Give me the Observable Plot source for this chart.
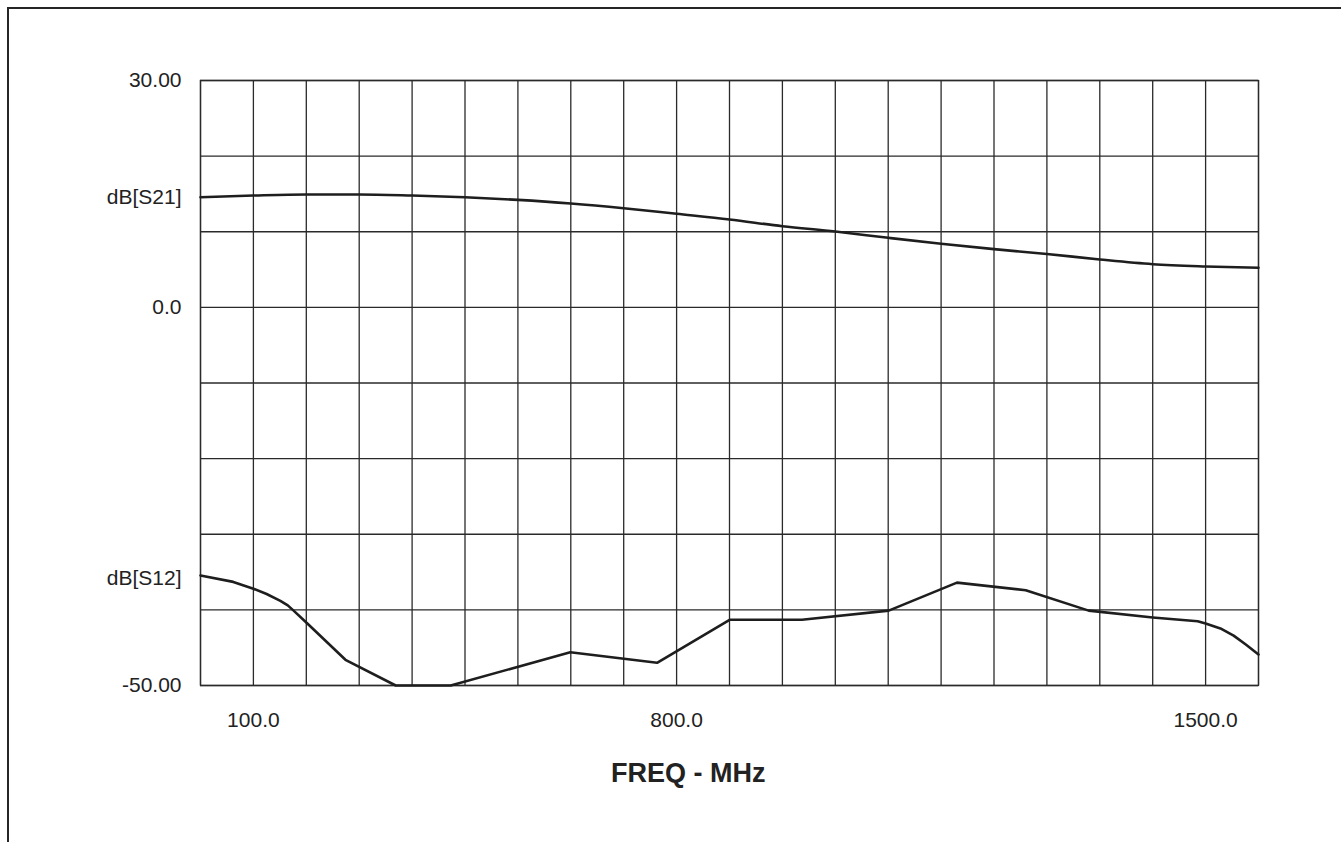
<!DOCTYPE html>
<html><head><meta charset="utf-8">
<script src="https://cdn.jsdelivr.net/npm/d3@7"></script>
<script src="https://cdn.jsdelivr.net/npm/@observablehq/plot@0.6"></script>
<style>
html,body{margin:0;padding:0;background:#fff;}
#wrap{position:relative;width:1341px;height:842px;overflow:hidden;background:#fff;}
#border{position:absolute;left:7px;top:7px;width:1400px;height:900px;border-top:2.5px solid #262626;border-left:2.5px solid #262626;}
#chart{position:absolute;left:0;top:0;}
</style></head><body>
<div id="wrap"><div id="border"></div><div id="chart"></div></div>
<script>
// Frequency axis in grid divisions (0..20); labelled ticks as printed on the chart
const xGrid = [0,1,2,3,4,5,6,7,8,9,10,11,12,13,14,15,16,17,18,19,20];
const xTickDiv = [1, 9, 19];
const xTickLabels = ["100.0", "800.0", "1500.0"];
const xTitle = "FREQ - MHz";
const xTitleDiv = 9.22;

// dB axis
const yGrid = [-50,-40,-30,-20,-10,0,10,20,30];
const yTickVals = [30, 14.5, 0, -35.8, -50];
const yTickLabels = ["30.00", "dB[S21]", "0.0", "dB[S12]", "-50.00"];

// dB[S21]
const s21Div = [0,1,2,3,4,5,6,7,8,9,10,11,12,13,14,15,16,17,18,19,20];
const s21dB  = [14.57,14.79,14.93,14.93,14.79,14.57,14.22,13.74,13.11,12.37,11.62,10.73,10.03,9.2,8.41,7.7,7.06,6.33,5.71,5.41,5.23];

// dB[S12]
const s12Div = [0,0.62,1.0,1.25,1.51,1.65,1.76,2.02,2.74,3.69,4.73,6.99,8.63,10.01,11.37,13.01,14.3,15.6,16.79,18.0,18.85,19.0,19.28,19.53,19.76,20.0];
const s12dB  = [-35.45,-36.3,-37.2,-37.9,-38.8,-39.4,-40.1,-41.8,-46.6,-50,-50,-45.6,-47.0,-41.3,-41.3,-40.1,-36.4,-37.4,-40.1,-41.0,-41.5,-41.8,-42.46,-43.4,-44.58,-45.9];

const s21 = s21Div.map((x, i) => ({x, y: s21dB[i]}));
const s12 = s12Div.map((x, i) => ({x, y: s12dB[i]}));
const xLab = new Map(xTickDiv.map((d, i) => [d, xTickLabels[i]]));
const yLab = new Map(yTickVals.map((d, i) => [d, yTickLabels[i]]));

const ink = "#2a2a2a";
const chart = Plot.plot({
  width: 1341,
  height: 842,
  marginLeft: 200,
  marginRight: 83,
  marginTop: 80,
  marginBottom: 157,
  x: {domain: [0, 20]},
  y: {domain: [-50, 30]},
  style: {fontFamily: "'Liberation Sans', Arial, Helvetica, sans-serif", color: "#222", background: "transparent"},
  marks: [
    Plot.gridX(xGrid, {stroke: ink, strokeOpacity: 1, strokeWidth: 1.3}),
    Plot.gridY(yGrid, {stroke: ink, strokeOpacity: 1, strokeWidth: 1.3}),
    Plot.frame({stroke: ink, strokeWidth: 1.3}),
    Plot.line(s21, {x: "x", y: "y", curve: "monotone-x", stroke: "#1e1e1e", strokeWidth: 2.6}),
    Plot.line(s12, {x: "x", y: "y", curve: "linear", stroke: "#1e1e1e", strokeWidth: 2.6}),
    Plot.axisX(xTickDiv, {tickFormat: d => xLab.get(d), tickSize: 0, tickPadding: 27, fontSize: 21, label: null, fill: "#222"}),
    Plot.axisY(yTickVals, {tickFormat: d => yLab.get(d), tickSize: 0, tickPadding: 19, fontSize: 21, label: null, fill: "#222"}),
    Plot.text([{x: xTitleDiv, t: xTitle}], {x: "x", text: "t", frameAnchor: "bottom", dy: 88, lineAnchor: "middle", fontSize: 27, fontWeight: "bold", fill: "#222"})
  ]
});
document.getElementById("chart").appendChild(chart);
</script>
</body></html>
